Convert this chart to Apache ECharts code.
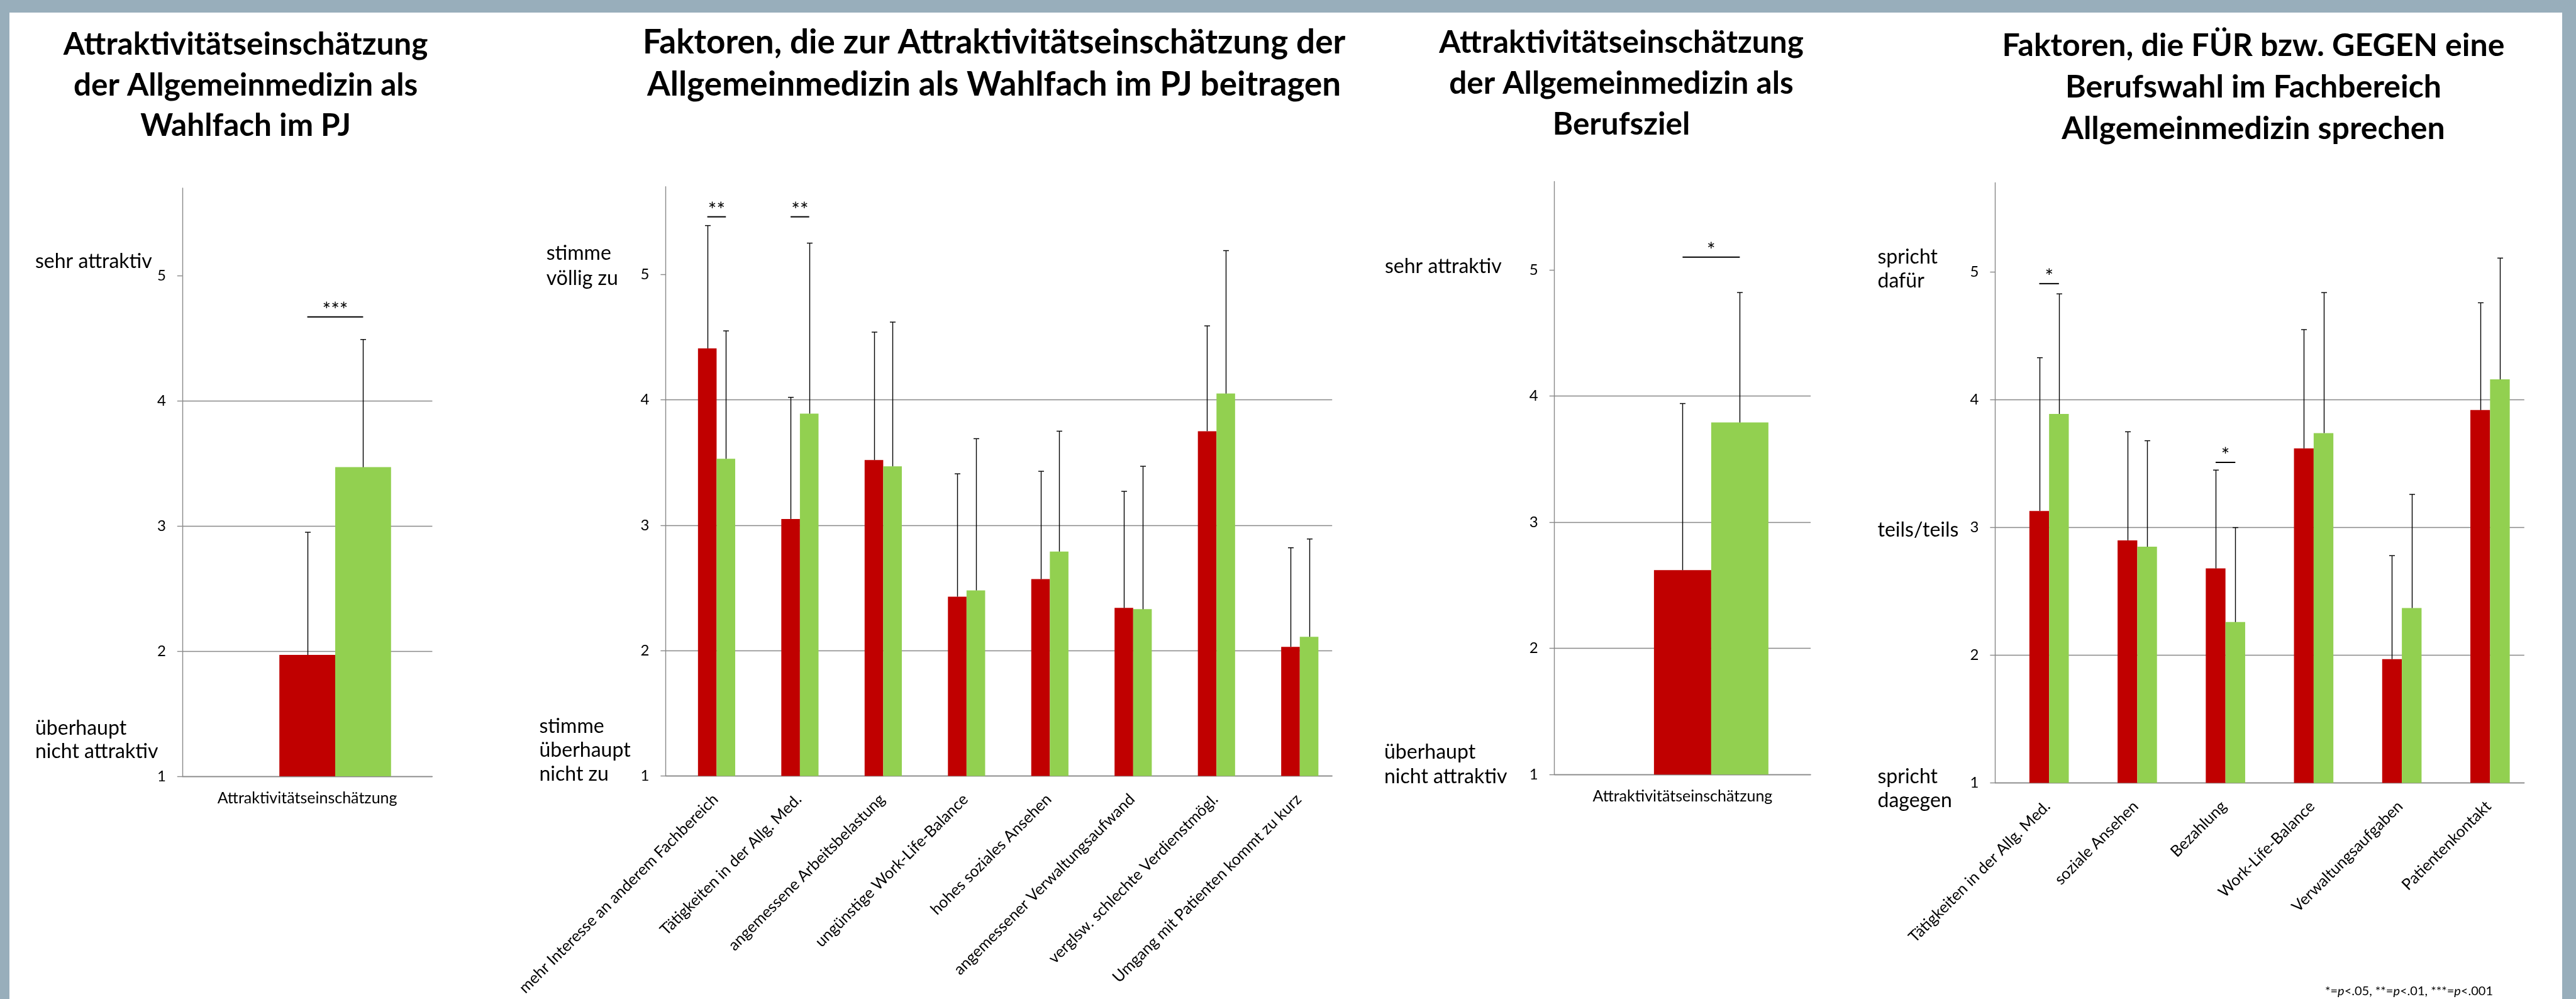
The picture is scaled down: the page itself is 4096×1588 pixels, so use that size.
<!DOCTYPE html>
<html>
<head>
<meta charset="utf-8">
<script src="https://cdn.jsdelivr.net/npm/echarts@6/dist/echarts.min.js"></script>
<style>
  html, body { margin: 0; padding: 0; background: #fff; }
  #main { width: 4096px; height: 1588px; }
</style>
</head>
<body>
<div id="main"></div>
<script>
// chart 1: Wahlfach im PJ
const cats1 = ['Attraktivitätseinschätzung']
const red1 = [1.97]
const green1 = [3.47]
const redErr1 = [2.95]
const greenErr1 = [4.49]
const sig1 = [[0, 4.67, '***']]

// chart 2: Faktoren Wahlfach
const cats2 = ['mehr Interesse an anderem Fachbereich', 'Tätigkeiten in der Allg. Med.', 'angemessene Arbeitsbelastung',
  'ungünstige Work-Life-Balance', 'hohes soziales Ansehen', 'angemessener Verwaltungsaufwand',
  'verglsw. schlechte Verdienstmögl.', 'Umgang mit Patienten kommt zu kurz']
const red2 = [4.41, 3.05, 3.52, 2.43, 2.57, 2.34, 3.75, 2.03]
const green2 = [3.53, 3.89, 3.47, 2.48, 2.79, 2.33, 4.05, 2.11]
const redErr2 = [5.39, 4.02, 4.54, 3.41, 3.43, 3.27, 4.59, 2.82]
const greenErr2 = [4.55, 5.25, 4.62, 3.69, 3.75, 3.47, 5.19, 2.89]
const sig2 = [[0, 5.46, '**'], [1, 5.46, '**']]

// chart 3: Berufsziel
const cats3 = ['Attraktivitätseinschätzung']
const red3 = [2.62]
const green3 = [3.79]
const redErr3 = [3.94]
const greenErr3 = [4.82]
const sig3 = [[0, 5.10, '*']]

// chart 4: Faktoren Berufswahl
const cats4 = ['Tätigkeiten in der Allg. Med.', 'soziale Ansehen', 'Bezahlung', 'Work-Life-Balance',
  'Verwaltungsaufgaben', 'Patientenkontakt']
const red4 = [3.13, 2.90, 2.68, 3.62, 1.97, 3.92]
const green4 = [3.89, 2.85, 2.26, 3.74, 2.37, 4.16]
const redErr4 = [4.33, 3.75, 3.45, 4.55, 2.78, 4.76]
const greenErr4 = [4.83, 3.68, 3.00, 4.84, 3.26, 5.11]
const sig4 = [[0, 4.91, '*'], [2, 3.51, '*']]

const yTicks = [1, 2, 3, 4, 5]

const FONT = 'Lato'
const RED = '#C00000'
const GREEN = '#92D050'
const GRID = '#888888'
const FRAME = '#98aebb'
const BAR_SHARE = 0.67 // 3 slots (empty, red, green) share 67% of a category

const chart = echarts.init(document.getElementById('main'))

const grids = [
  { left: 289.8, top: 298.9, width: 397.6, height: 935.2, outerBoundsMode: 'none' },
  { left: 1058.4, top: 296.8, width: 1059.8, height: 936.6, outerBoundsMode: 'none' },
  { left: 2471.7, top: 288.4, width: 407.4, height: 942.9, outerBoundsMode: 'none' },
  { left: 3172.4, top: 290.5, width: 841.4, height: 954.1, outerBoundsMode: 'none' }
]

function xAxisCfg (idx, cats, rotated) {
  return {
    type: 'category',
    gridIndex: idx,
    data: cats,
    axisLine: { lineStyle: { color: GRID, width: 1.4 } },
    axisTick: { length: 8, lineStyle: { color: GRID, width: 1.4 } },
    axisLabel: rotated
      ? { interval: 0, rotate: 45, align: 'right', verticalAlign: 'top', margin: 20, padding: [6, 0, 0, 0], color: '#000', fontFamily: FONT, fontSize: 25 }
      : { interval: 0, margin: 22, color: '#000', fontFamily: FONT, fontSize: 25 }
  }
}

function yAxisCfg (idx) {
  return {
    type: 'value',
    gridIndex: idx,
    min: 1,
    max: 5.7,
    interval: 1,
    axisLine: { show: true, lineStyle: { color: GRID, width: 1.4 } },
    axisTick: { show: true, length: 8, customValues: yTicks, lineStyle: { color: GRID, width: 1.4 } },
    axisLabel: {
      customValues: yTicks,
      formatter: v => (v % 1 === 0 ? String(v) : ''),
      margin: 26, color: '#000', fontFamily: FONT, fontSize: 24
    },
    splitLine: { show: true, showMaxLine: false, lineStyle: { color: GRID, width: 1.4 } }
  }
}

function barSeries (idx, data, color) {
  return {
    type: 'bar',
    xAxisIndex: idx,
    yAxisIndex: idx,
    data: data,
    barGap: '0%',
    barCategoryGap: '33%',
    itemStyle: { color: color },
    silent: true
  }
}

// upper error bar, slot 0 = red (centered), slot 1 = green
function errSeries (idx, means, uppers, slot) {
  return {
    type: 'custom',
    xAxisIndex: idx,
    yAxisIndex: idx,
    z: 5,
    silent: true,
    data: means.map((m, i) => [i, m, uppers[i]]),
    renderItem (params, api) {
      const band = api.size([1, 0])[0]
      const dx = band * BAR_SHARE / 3 * slot
      const p0 = api.coord([api.value(0), api.value(1)])
      const p1 = api.coord([api.value(0), api.value(2)])
      const x = Math.round(p0[0] + dx) + 0.5
      const st = { stroke: '#000', lineWidth: 1.4 }
      return {
        type: 'group',
        children: [
          { type: 'line', shape: { x1: x, y1: p0[1], x2: x, y2: p1[1] }, style: st },
          { type: 'line', shape: { x1: x - 4.5, y1: p1[1], x2: x + 4.5, y2: p1[1] }, style: st }
        ]
      }
    }
  }
}

function sigSeries (idx, items) {
  return {
    type: 'custom',
    xAxisIndex: idx,
    yAxisIndex: idx,
    z: 6,
    silent: true,
    data: items.map(d => [d[0], d[1]]),
    renderItem (params, api) {
      const band = api.size([1, 0])[0]
      const w = band * BAR_SHARE / 3
      const p = api.coord([api.value(0), api.value(1)])
      const x1 = p[0]
      const x2 = p[0] + w
      return {
        type: 'group',
        children: [
          { type: 'line', shape: { x1: x1, y1: p[1], x2: x2, y2: p[1] }, style: { stroke: '#000', lineWidth: 2 } },
          {
            type: 'text',
            style: {
              text: items[params.dataIndex][2], x: (x1 + x2) / 2, y: p[1] - 10,
              align: 'center', verticalAlign: 'middle', fill: '#000', font: '32px ' + FONT
            }
          }
        ]
      }
    }
  }
}

function chartSeries (idx, cats, red, green, redErr, greenErr, sig) {
  return [
    barSeries(idx, cats.map(() => null), 'transparent'),
    barSeries(idx, red, RED),
    barSeries(idx, green, GREEN),
    errSeries(idx, red, redErr, 0),
    errSeries(idx, green, greenErr, 1),
    sigSeries(idx, sig)
  ]
}

function label (x, y, text, lh, extra) {
  return {
    type: 'text',
    x: x,
    y: y,
    style: Object.assign({
      text: text, fill: '#000', font: '32px ' + FONT,
      align: 'left', verticalAlign: 'middle', lineHeight: lh || 38
    }, extra || {})
  }
}

function titleText (x, y, text, lh, size) {
  return label(x, y, text, lh, { font: 'bold ' + size + 'px ' + FONT, align: 'center' })
}

const option = {
  animation: false,
  backgroundColor: '#fff',
  grid: grids,
  xAxis: [
    xAxisCfg(0, cats1, false),
    xAxisCfg(1, cats2, true),
    xAxisCfg(2, cats3, false),
    xAxisCfg(3, cats4, true)
  ],
  yAxis: [yAxisCfg(0), yAxisCfg(1), yAxisCfg(2), yAxisCfg(3)],
  series: [].concat(
    chartSeries(0, cats1, red1, green1, redErr1, greenErr1, sig1),
    chartSeries(1, cats2, red2, green2, redErr2, greenErr2, sig2),
    chartSeries(2, cats3, red3, green3, redErr3, greenErr3, sig3),
    chartSeries(3, cats4, red4, green4, redErr4, greenErr4, sig4)
  ),
  graphic: [
    // frame
    { type: 'rect', shape: { x: 0, y: 0, width: 15, height: 1588 }, style: { fill: FRAME } },
    { type: 'rect', shape: { x: 0, y: 0, width: 4096, height: 20 }, style: { fill: FRAME } },
    { type: 'rect', shape: { x: 4074, y: 0, width: 22, height: 1588 }, style: { fill: FRAME } },
    // titles
    titleText(390.6, 136, 'Attraktivitätseinschätzung\nder Allgemeinmedizin als\nWahlfach im PJ', 64.5, 49.5),
    titleText(1580.6, 101, 'Faktoren, die zur Attraktivitätseinschätzung der\nAllgemeinmedizin als Wahlfach im PJ beitragen', 67, 53),
    titleText(2578, 133, 'Attraktivitätseinschätzung\nder Allgemeinmedizin als\nBerufsziel', 65, 49.5),
    titleText(3583, 139, 'Faktoren, die FÜR bzw. GEGEN eine\nBerufswahl im Fachbereich\nAllgemeinmedizin sprechen', 66, 50),
    // side labels
    label(56, 416, 'sehr attraktiv'),
    label(56, 1176, 'überhaupt\nnicht attraktiv', 36.5),
    label(868.7, 422.5, 'stimme\nvöllig zu', 40),
    label(857.5, 1193, 'stimme\nüberhaupt\nnicht zu', 38),
    label(2202, 424, 'sehr attraktiv'),
    label(2201, 1215, 'überhaupt\nnicht attraktiv', 38.5),
    label(2985.5, 428, 'spricht\ndafür', 38),
    label(2985.5, 843, 'teils/teils'),
    label(2985.5, 1254, 'spricht\ndagegen', 38),
    // footnote
    {
      type: 'text',
      x: 3697,
      y: 1576,
      style: {
        text: '*={i|p}<.05, **={i|p}<.01, ***={i|p}<.001',
        fill: '#000', font: '20px ' + FONT, verticalAlign: 'middle',
        rich: { i: { fontStyle: 'italic', fontFamily: FONT, fontSize: 20 } }
      }
    }
  ]
}

chart.setOption(option)
</script>
</body>
</html>
